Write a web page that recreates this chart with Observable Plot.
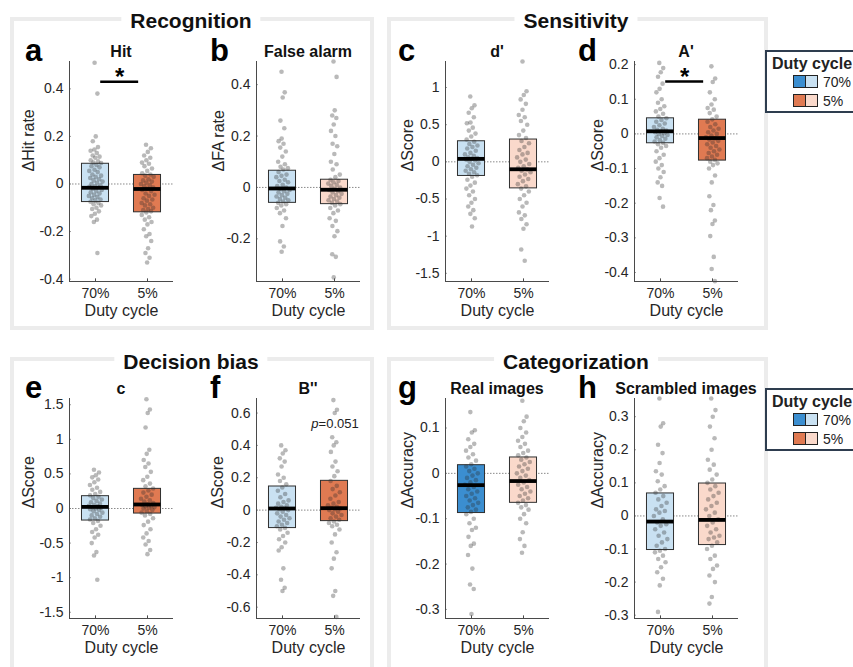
<!DOCTYPE html>
<html><head><meta charset="utf-8">
<script src="https://cdn.jsdelivr.net/npm/d3@7"></script>
<script src="https://cdn.jsdelivr.net/npm/@observablehq/plot@0.6"></script>
<style>
body{margin:0;background:#fff;font-family:"Liberation Sans",Arial,sans-serif;}
#fig{position:relative;width:853px;height:667px;overflow:hidden;background:#fff;}
.frame{position:absolute;border:4px solid #ececec;box-sizing:border-box;}
.gtitle{position:absolute;transform:translate(-50%,-50%);background:#fff;padding:0 9px;font-weight:bold;font-size:21px;line-height:20px;white-space:nowrap;color:#111;}
.letter{position:absolute;font-weight:bold;font-size:31px;line-height:22px;color:#000;}
.ptitle{position:absolute;transform:translateX(-50%);font-weight:bold;font-size:16px;line-height:16px;white-space:nowrap;color:#111;}
.panel{position:absolute;}
.legend{position:absolute;left:765px;width:110px;height:63px;border:2px solid #2e3d4f;box-sizing:border-box;background:#fff;color:#222;}
.legend .lt{position:absolute;left:5px;top:3px;font-weight:bold;font-size:16px;white-space:nowrap;}
.legend .row{position:absolute;left:26px;font-size:14px;line-height:14px;white-space:nowrap;}
.sw{display:inline-block;width:13px;height:13px;border:1px solid #222;box-sizing:border-box;vertical-align:-1px;}
.pval{position:absolute;transform:translate(-50%,-50%);font-size:13px;color:#222;white-space:nowrap;}
</style></head>
<body><div id="fig"></div>
<script>
// ---------- data ----------
const groups = ["70%", "5%"];
const panelIds = ["a","b","c","d","e","f","g","h"];
const panelTitles = ["Hit","False alarm","d'","A'","c","B''","Real images","Scrambled images"];
const yLabels = ["\u0394Hit rate","\u0394FA rate","\u0394Score","\u0394Score","\u0394Score","\u0394Score","\u0394Accuracy","\u0394Accuracy"];
const groupTitles = ["Recognition","Sensitivity","Decision bias","Categorization"];

const yDomains = [[-0.41,0.515],[-0.366,0.49],[-1.61,1.35],[-0.426,0.209],[-1.59,1.59],[-0.67,0.69],[-0.32,0.165],[-0.31,0.355]];
const yTicks = [
  [-0.4,-0.2,0,0.2,0.4],
  [-0.2,0,0.2,0.4],
  [-1.5,-1,-0.5,0,0.5,1],
  [-0.4,-0.3,-0.2,-0.1,0,0.1,0.2],
  [-1.5,-1,-0.5,0,0.5,1,1.5],
  [-0.6,-0.4,-0.2,0,0.2,0.4,0.6],
  [-0.3,-0.2,-0.1,0,0.1],
  [-0.3,-0.2,-0.1,0,0.1,0.2,0.3]
];

// box stats [q1, median, q3]
const box70 = [[-0.076,-0.016,0.085],[-0.06,-0.004,0.065],[-0.19,0.04,0.277],[-0.027,0.0075,0.045],[-0.174,0.023,0.178],[-0.111,0.01,0.146],[-0.0875,-0.026,0.018],[-0.103,-0.017,0.068]];
const box5  = [[-0.119,-0.021,0.038],[-0.065,-0.009,0.03],[-0.357,-0.10,0.30],[-0.077,-0.012,0.041],[-0.073,0.058,0.284],[-0.068,0.012,0.181],[-0.065,-0.017,0.035],[-0.088,-0.012,0.098]];
// fill shade: "dark" or "light"
const shade70 = ["light","light","light","light","light","light","dark","light"];
const shade5  = ["dark","light","light","dark","dark","dark","light","light"];

// individual points
const hit70 = [0.51,0.38,0.20,0.18,0.155,0.145,0.14,0.13,0.12,0.115,0.11,0.10,0.095,0.09,0.088,0.08,0.075,0.07,0.06,0.055,0.05,0.04,0.035,0.03,0.025,0.02,0.015,0.01,0.005,0,-0.005,-0.01,-0.012,-0.015,-0.02,-0.025,-0.03,-0.035,-0.04,-0.045,-0.05,-0.055,-0.06,-0.065,-0.07,-0.075,-0.08,-0.085,-0.09,-0.1,-0.105,-0.115,-0.125,-0.135,-0.15,-0.16,-0.29];
const hit5 = [0.165,0.15,0.135,0.12,0.11,0.1,0.09,0.085,0.075,0.065,0.055,0.045,0.04,0.035,0.03,0.02,0.015,0.01,0.005,0,-0.005,-0.01,-0.015,-0.02,-0.025,-0.03,-0.04,-0.045,-0.05,-0.06,-0.065,-0.07,-0.08,-0.085,-0.09,-0.1,-0.105,-0.11,-0.115,-0.12,-0.13,-0.14,-0.15,-0.16,-0.17,-0.19,-0.21,-0.22,-0.24,-0.27,-0.29,-0.31,-0.33];
const fa70 = [0.45,0.37,0.35,0.26,0.23,0.19,0.18,0.17,0.155,0.14,0.12,0.1,0.09,0.08,0.075,0.07,0.06,0.05,0.045,0.04,0.03,0.025,0.02,0.01,0.005,0,-0.005,-0.01,-0.015,-0.02,-0.025,-0.03,-0.035,-0.04,-0.045,-0.05,-0.055,-0.06,-0.065,-0.07,-0.08,-0.09,-0.1,-0.12,-0.15,-0.21,-0.23,-0.25];
const fa5 = [0.49,0.43,0.30,0.28,0.27,0.245,0.22,0.2,0.17,0.16,0.13,0.1,0.09,0.07,0.05,0.04,0.03,0.025,0.02,0.015,0.01,0.005,0,-0.005,-0.01,-0.015,-0.02,-0.025,-0.03,-0.035,-0.04,-0.045,-0.05,-0.055,-0.06,-0.065,-0.07,-0.08,-0.09,-0.1,-0.12,-0.13,-0.15,-0.17,-0.19,-0.26,-0.27,-0.35];
const dp70 = [0.88,0.76,0.72,0.66,0.6,0.53,0.52,0.46,0.42,0.38,0.34,0.3,0.27,0.24,0.22,0.2,0.18,0.15,0.12,0.1,0.08,0.06,0.05,0.04,0.03,0.02,0,-0.02,-0.04,-0.06,-0.08,-0.1,-0.12,-0.14,-0.16,-0.18,-0.2,-0.24,-0.28,-0.32,-0.36,-0.4,-0.45,-0.5,-0.55,-0.6,-0.65,-0.7,-0.76,-0.87];
const dp5 = [1.35,0.95,0.9,0.84,0.78,0.7,0.63,0.6,0.55,0.5,0.42,0.36,0.32,0.28,0.25,0.2,0.16,0.12,0.1,0.06,0.03,0,-0.03,-0.06,-0.08,-0.1,-0.12,-0.14,-0.17,-0.2,-0.23,-0.26,-0.3,-0.33,-0.36,-0.4,-0.45,-0.5,-0.55,-0.6,-0.68,-0.72,-0.77,-0.84,-0.9,-1.18,-1.33];
const ap70 = [0.205,0.19,0.178,0.165,0.145,0.13,0.12,0.1,0.09,0.08,0.072,0.065,0.058,0.05,0.045,0.04,0.035,0.03,0.025,0.02,0.015,0.012,0.01,0.007,0.005,0.002,0,-0.003,-0.006,-0.01,-0.014,-0.018,-0.022,-0.026,-0.03,-0.035,-0.04,-0.05,-0.06,-0.07,-0.08,-0.09,-0.1,-0.11,-0.125,-0.14,-0.15,-0.185,-0.21];
const ap5 = [0.195,0.16,0.15,0.12,0.1,0.085,0.075,0.07,0.06,0.05,0.042,0.035,0.028,0.02,0.015,0.01,0.005,0,-0.005,-0.01,-0.013,-0.016,-0.02,-0.025,-0.03,-0.035,-0.04,-0.045,-0.05,-0.055,-0.06,-0.065,-0.07,-0.075,-0.08,-0.085,-0.09,-0.1,-0.12,-0.14,-0.18,-0.205,-0.22,-0.25,-0.26,-0.295,-0.355,-0.39,-0.425];
const c70 = [0.56,0.52,0.48,0.45,0.42,0.38,0.34,0.3,0.27,0.24,0.21,0.19,0.17,0.15,0.13,0.11,0.09,0.07,0.05,0.04,0.03,0.02,0.01,0,-0.01,-0.02,-0.04,-0.06,-0.08,-0.1,-0.12,-0.14,-0.16,-0.18,-0.21,-0.25,-0.3,-0.34,-0.38,-0.42,-0.5,-0.63,-0.68,-1.03];
const c5 = [1.58,1.43,1.38,1.17,0.85,0.79,0.7,0.65,0.6,0.53,0.46,0.41,0.36,0.32,0.29,0.26,0.23,0.2,0.17,0.14,0.12,0.1,0.08,0.06,0.05,0.04,0.03,0.02,0.01,0,-0.02,-0.04,-0.06,-0.08,-0.1,-0.14,-0.19,-0.24,-0.3,-0.36,-0.42,-0.47,-0.52,-0.6,-0.66];
const bpp70 = [0.4,0.37,0.35,0.32,0.3,0.27,0.22,0.2,0.18,0.16,0.14,0.12,0.1,0.08,0.06,0.05,0.04,0.03,0.02,0.015,0.01,0.005,0,-0.01,-0.02,-0.03,-0.04,-0.05,-0.06,-0.07,-0.08,-0.09,-0.1,-0.11,-0.12,-0.14,-0.16,-0.18,-0.2,-0.23,-0.25,-0.36,-0.43,-0.48,-0.5];
const bpp5 = [0.68,0.62,0.6,0.45,0.42,0.4,0.36,0.3,0.27,0.24,0.21,0.18,0.15,0.13,0.11,0.09,0.07,0.05,0.04,0.03,0.02,0.015,0.01,0.005,0,-0.01,-0.02,-0.03,-0.04,-0.05,-0.06,-0.07,-0.08,-0.09,-0.1,-0.12,-0.15,-0.2,-0.26,-0.3,-0.36,-0.5,-0.53,-0.66];
const real70 = [0.135,0.095,0.09,0.075,0.065,0.058,0.05,0.042,0.035,0.028,0.02,0.015,0.01,0.005,0,-0.005,-0.01,-0.015,-0.02,-0.025,-0.03,-0.035,-0.04,-0.045,-0.05,-0.055,-0.06,-0.065,-0.07,-0.075,-0.08,-0.085,-0.09,-0.1,-0.11,-0.12,-0.125,-0.14,-0.155,-0.16,-0.18,-0.21,-0.245,-0.255,-0.31];
const real5 = [0.16,0.125,0.115,0.1,0.09,0.08,0.072,0.065,0.058,0.05,0.045,0.04,0.035,0.03,0.025,0.02,0.015,0.01,0.005,0,-0.005,-0.01,-0.015,-0.02,-0.025,-0.03,-0.035,-0.04,-0.045,-0.05,-0.055,-0.06,-0.065,-0.07,-0.075,-0.08,-0.09,-0.1,-0.11,-0.13,-0.145,-0.16,-0.175];
const scr70 = [0.355,0.28,0.27,0.215,0.19,0.16,0.135,0.125,0.105,0.09,0.08,0.07,0.06,0.05,0.04,0.03,0.02,0.015,0.01,0,-0.01,-0.02,-0.025,-0.03,-0.04,-0.05,-0.06,-0.07,-0.08,-0.09,-0.1,-0.105,-0.11,-0.12,-0.13,-0.14,-0.155,-0.17,-0.19,-0.21,-0.29];
const scr5 = [0.355,0.32,0.3,0.27,0.235,0.2,0.17,0.155,0.14,0.125,0.11,0.1,0.09,0.08,0.07,0.06,0.05,0.04,0.03,0.02,0.01,0,-0.01,-0.02,-0.03,-0.04,-0.05,-0.06,-0.065,-0.07,-0.08,-0.09,-0.1,-0.12,-0.13,-0.15,-0.16,-0.18,-0.2,-0.245,-0.265];
const points70 = [hit70, fa70, dp70, ap70, c70, bpp70, real70, scr70];
const points5 = [hit5, fa5, dp5, ap5, c5, bpp5, real5, scr5];

// significance bars (panel index, y level)
const sigPanels = [0, 3];
const sigLevels = [0.43, 0.151];

// ---------- style / layout ----------
const colors = {
  "70%": {dark: "#3b8ed0", light: "#c9e1f2"},
  "5%":  {dark: "#e07a52", light: "#fad9cb"}
};
const FONT = '"Liberation Sans", Arial, sans-serif';
const axisLefts = [69, 256, 445, 634, 69, 256, 445, 634];
const axisTops = [61, 61, 61, 61, 398, 398, 398, 398];
const labelOffsets = [41, 38, 38, 37, 41, 39, 38, 37];
const ML = 55, MR = 10, MT = 10, MB = 45, PW = 104, PH = 220;

const fig = document.getElementById("fig");
function el(tag, cls, html, css) {
  const e = document.createElement(tag);
  if (cls) e.className = cls;
  if (html != null) e.innerHTML = html;
  Object.assign(e.style, css || {});
  fig.appendChild(e);
  return e;
}

// group frames + titles
const frameBoxes = [[10,17,364,313],[387,17,381,313],[10,357,364,360],[387,357,381,360]];
const titleCenters = [[191,21],[576,21],[191,362],[576,362]];
frameBoxes.forEach((b, i) => {
  el("div", "frame", null, {left: b[0]+"px", top: b[1]+"px", width: b[2]+"px", height: b[3]+"px"});
});
groupTitles.forEach((t, i) => {
  el("div", "gtitle", t, {left: titleCenters[i][0]+"px", top: titleCenters[i][1]+"px"});
});

const fmt = d => String(+d.toFixed(2));
const frac = x => x - Math.floor(x);

for (let k = 0; k < 8; k++) {
  const dom = yDomains[k];
  const span = dom[1] - dom[0];
  const boxes = [
    {g: 1, q1: box70[k][0], med: box70[k][1], q3: box70[k][2], fill: colors["70%"][shade70[k]]},
    {g: 2, q1: box5[k][0], med: box5[k][1], q3: box5[k][2], fill: colors["5%"][shade5[k]]}
  ];
  const pts = [];
  [points70[k], points5[k]].forEach((vals, gi) => {
    const bw = 0.07 * span;
    const dens = v => d3.sum(vals, u => Math.exp(-0.5 * ((v - u) / bw) ** 2));
    const maxD = d3.max(vals, dens);
    vals.forEach((v, i) => {
      const w = 0.04 + 0.1 * dens(v) / maxD;
      pts.push({g: gi + 1, v, x: gi + 1 + (frac(i * 0.6180339887 + 0.3) - 0.5) * 2 * w});
    });
  });
  const hw = 0.26;
  const tickLen = span * 0.012;
  const marks = [
    Plot.ruleY([0], {stroke: "#8a8a8a", strokeWidth: 1, strokeDasharray: "1.5,1.5"}),
    Plot.rect(boxes, {x1: d => d.g - hw, x2: d => d.g + hw, y1: "q1", y2: "q3", fill: "fill"}),
    Plot.dot(pts, {x: "x", y: "v", r: 2.3, fill: "#2a2a2a", fillOpacity: 0.33, stroke: null}),
    Plot.rect(boxes, {x1: d => d.g - hw, x2: d => d.g + hw, y1: "q1", y2: "q3", fill: "none", stroke: "#2f2f2f", strokeWidth: 1}),
    Plot.ruleY(boxes, {x1: d => d.g - hw, x2: d => d.g + hw, y: "med", stroke: "#000", strokeWidth: 3.8}),
    Plot.ruleX([0.5], {stroke: "#4a4a4a", strokeWidth: 1}),
    Plot.ruleY([dom[0]], {stroke: "#4a4a4a", strokeWidth: 1}),
    Plot.ruleX([1, 2], {y1: dom[0], y2: dom[0] + tickLen, stroke: "#4a4a4a"}),
    Plot.ruleY(yTicks[k], {x1: 0.5, x2: 0.53, stroke: "#4a4a4a"}),
    Plot.axisY({ticks: yTicks[k], tickFormat: fmt, tickSize: 0, tickPadding: 6, fontSize: 14, label: null, fill: "#262626"}),
    Plot.axisX({ticks: [1, 2], tickFormat: d => groups[d - 1], tickSize: 0, tickPadding: 7, fontSize: 14, label: null, fill: "#262626"}),
    Plot.text([yLabels[k]], {text: d => d, frameAnchor: "left", dx: -labelOffsets[k], rotate: -90, fontSize: 16, fill: "#262626"}),
    Plot.text(["Duty cycle"], {text: d => d, frameAnchor: "bottom", dy: 34, fontSize: 16, fill: "#262626"})
  ];
  const si = sigPanels.indexOf(k);
  if (si >= 0) {
    const lvl = sigLevels[si];
    marks.push(Plot.ruleY([lvl], {x1: 1.1, x2: 1.83, stroke: "#000", strokeWidth: 2.5}));
    marks.push(Plot.text(["*"], {text: d => d, x: 1.465, y: lvl, dy: 3, lineAnchor: "bottom", fontSize: 24, fontWeight: "bold", fill: "#000"}));
  }
  const svg = Plot.plot({
    width: ML + PW + MR, height: MT + PH + MB,
    marginLeft: ML, marginRight: MR, marginTop: MT, marginBottom: MB,
    x: {domain: [0.5, 2.5]},
    y: {domain: dom},
    style: {fontFamily: FONT, background: "transparent", overflow: "visible"},
    marks
  });
  svg.classList.add("panel");
  svg.style.left = (axisLefts[k] - ML) + "px";
  svg.style.top = (axisTops[k] - MT) + "px";
  fig.appendChild(svg);

  // letter + title
  const base = axisTops[k];
  const letterX = [25, 210, 398, 578][k % 4];
  el("div", "letter", panelIds[k], {left: letterX + "px", top: (base - 21) + "px"});
  el("div", "ptitle", panelTitles[k], {left: (axisLefts[k] + PW / 2) + "px", top: (base - 17) + "px"});
}

// p-value annotation in panel f
el("div", "pval", "<i>p</i>=0.051", {left: "335px", top: "423px"});

// legends
[50, 388].forEach(top => {
  const lg = el("div", "legend", null, {top: top + "px"});
  lg.innerHTML = '<div class="lt">Duty cycle</div>' +
    groups.map((g, i) => '<div class="row" style="top:' + (23 + i * 19) + 'px">' +
      '<span class="sw" style="background:' + colors[g].dark + '"></span>' +
      '<span class="sw" style="background:' + colors[g].light + ';margin-left:-1px"></span>' +
      '<span style="margin-left:5px">' + g + '</span></div>').join("");
  fig.appendChild(lg);
});
</script>
</body></html>
